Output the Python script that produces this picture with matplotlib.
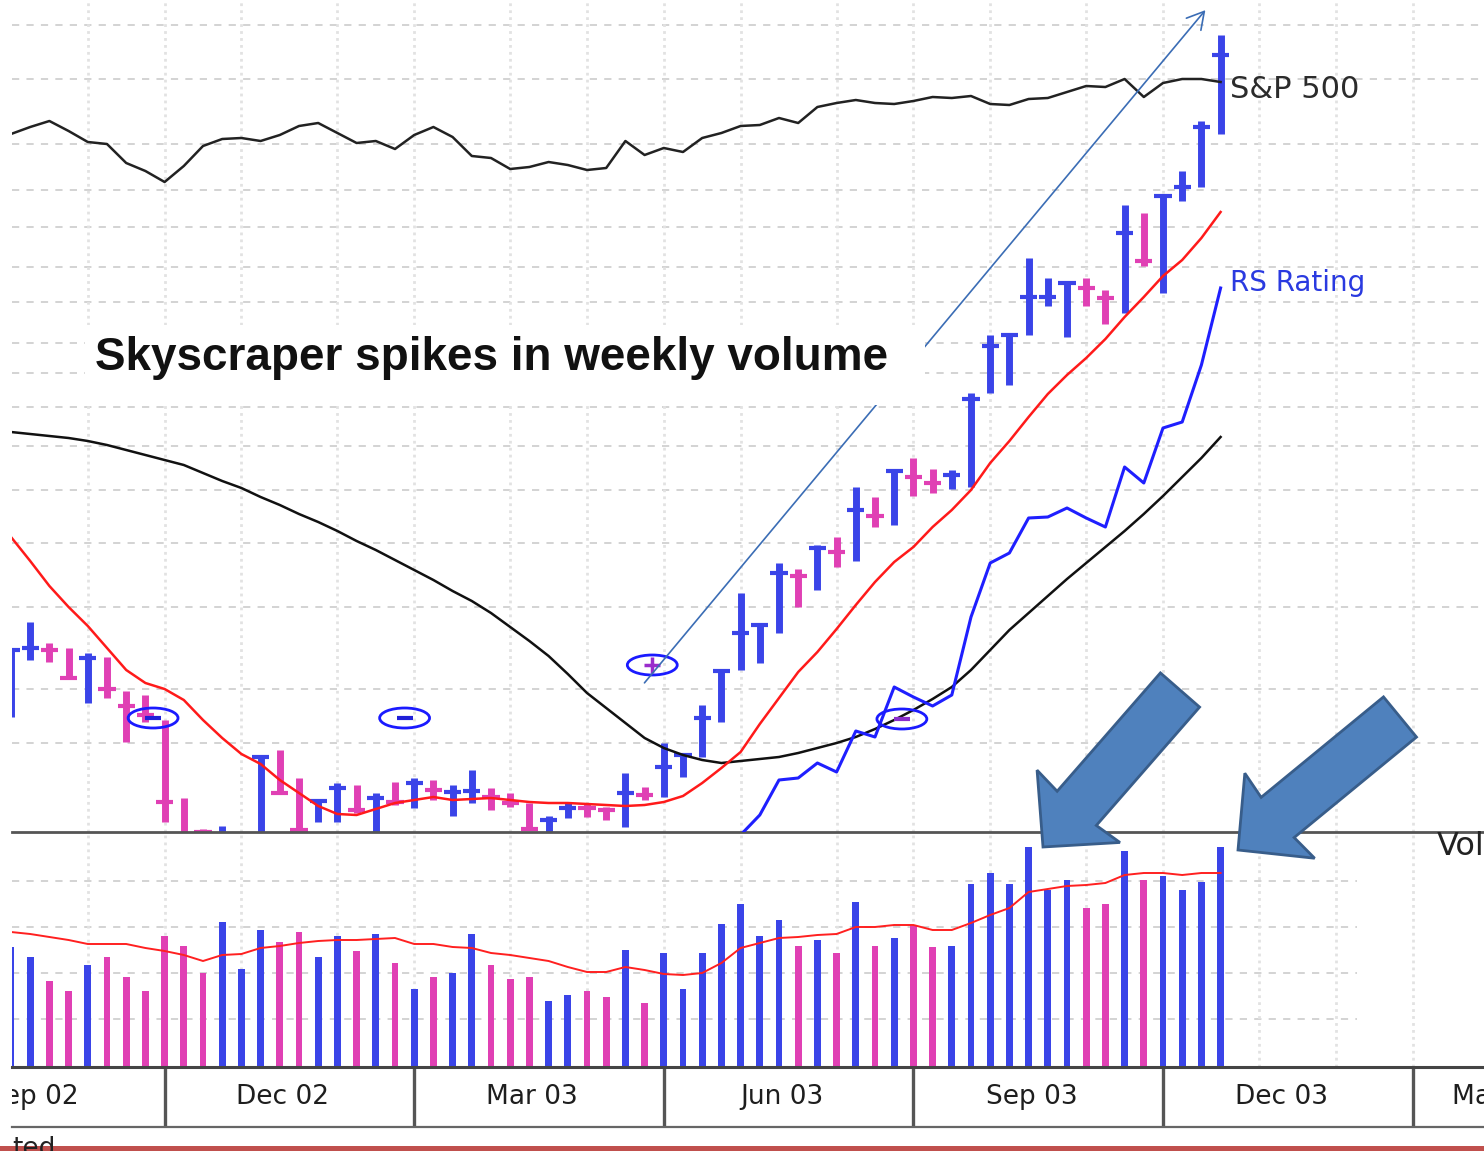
import matplotlib
matplotlib.use("Agg")
import matplotlib.pyplot as plt
import numpy as np
from matplotlib.patches import Ellipse, Rectangle, FancyArrow

# ---- weekly data (week 0 = left edge, Sep 2002 ... Dec 2003) ----
weeks = np.arange(64)
up = [1, 1, 0, 0, 1, 0, 0, 0,
      0, 0, 0, 1, 1, 1, 0, 0,
      1, 1, 0, 1, 0, 1, 0, 1,
      1, 0, 0, 0, 1, 1, 0, 0,
      1, 0, 1, 1, 1, 1, 1, 1,
      1, 0, 1, 0, 1, 0, 1, 0,
      0, 1, 1, 1, 1, 1, 1, 1,
      0, 0, 1, 0, 1, 1, 1, 1]
high = [18.2, 21.0, 18.9, 18.4, 17.9, 17.5, 14.1, 13.7,
        11.2, 3.4, 0.3, 0.6, -0.3, 7.7, 8.2, 5.4,
        3.2, 4.9, 4.7, 3.9, 5.0, 5.4, 5.2, 4.7,
        6.2, 4.4, 3.9, 2.9, 1.6, 3.0, 2.9, 2.5,
        5.9, 4.5, 8.9, 7.8, 12.7, 16.2, 23.9, 20.7,
        26.9, 26.3, 28.7, 29.5, 34.5, 33.5, 36.2, 37.4,
        36.3, 36.2, 43.9, 49.7, 49.9, 57.4, 55.4, 54.9,
        55.4, 54.2, 62.7, 61.9, 63.7, 66.1, 71.1, 79.7]
low = [11.5, 17.2, 17.0, 15.4, 12.9, 13.4, 9.0, 11.0,
       1.0, -1.3, -2.8, -2.8, -4.8, -1.3, 3.9, -0.3,
       1.0, 1.0, 1.9, -0.8, 2.7, 2.4, 3.2, 1.6,
       2.9, 2.2, 2.5, 0.3, -0.8, 1.4, 1.5, 1.2,
       0.5, 3.2, 3.5, 5.5, 7.5, 11.0, 16.2, 16.9,
       19.9, 22.5, 24.2, 26.5, 27.1, 30.5, 30.7, 33.6,
       33.9, 34.3, 34.5, 43.9, 44.7, 49.7, 52.6, 49.5,
       52.6, 50.8, 51.9, 56.6, 53.9, 63.1, 64.5, 69.8]
close = [18.2, 18.4, 18.2, 15.4, 17.4, 14.3, 12.6, 11.7,
         3.0, -0.3, 0.0, -1.3, -1.8, 7.5, 3.9, 0.2,
         3.1, 4.4, 2.2, 3.4, 3.0, 4.9, 4.2, 4.0,
         4.1, 3.5, 2.9, 0.3, 1.2, 2.4, 2.4, 2.2,
         3.9, 3.7, 6.5, 7.7, 11.4, 16.1, 19.9, 20.7,
         25.9, 25.6, 28.4, 28.0, 32.2, 31.6, 36.1, 35.5,
         34.9, 35.7, 43.3, 48.6, 49.7, 53.5, 53.5, 54.9,
         54.4, 53.4, 59.9, 57.1, 63.6, 64.5, 70.5, 77.7]
ma10 = [29.5, 27.1, 24.6, 22.5, 20.6, 18.4, 16.2, 14.9,
        14.3, 13.2, 11.2, 9.4, 7.8, 6.8, 5.2, 3.9,
        2.6, 1.8, 1.7, 2.3, 2.9, 3.2, 3.5, 3.2,
        3.3, 3.4, 3.2, 3.0, 2.9, 2.9, 2.8, 2.7,
        2.6, 2.7, 3.0, 3.6, 4.9, 6.4, 8.0, 10.8,
        13.4, 16.0, 18.0, 20.3, 22.7, 25.0, 27.0, 28.5,
        30.5, 32.2, 34.2, 36.9, 39.1, 41.5, 43.8, 45.7,
        47.4, 49.3, 51.5, 53.5, 55.6, 57.2, 59.4, 62.0]
ma40 = [40.0, 39.8, 39.6, 39.4, 39.1, 38.7, 38.2, 37.7,
        37.2, 36.7, 35.9, 35.1, 34.4, 33.5, 32.7, 31.8,
        31.0, 30.1, 29.1, 28.2, 27.2, 26.2, 25.2, 24.1,
        23.1, 21.9, 20.5, 19.1, 17.6, 15.8, 13.9, 12.4,
        10.9, 9.4, 8.4, 7.7, 7.2, 6.9, 7.1, 7.3,
        7.5, 7.9, 8.4, 8.9, 9.5, 10.3, 11.2, 12.2,
        13.3, 14.5, 16.2, 18.2, 20.2, 21.9, 23.6, 25.3,
        26.9, 28.5, 30.1, 31.8, 33.6, 35.5, 37.4, 39.5]
rs_start = 37
rs_line = [-2.8, -0.3, 1.7, 5.2, 5.4, 6.9, 6.0, 10.1, 9.5, 14.5, 13.5, 12.6,
           13.7, 21.5, 26.9, 27.9, 31.4, 31.5, 32.4, 31.4, 30.5, 36.5, 34.9,
           40.4, 41.0, 46.7, 54.4]
sp500 = [69.8, 70.5, 71.1, 70.1, 69.0, 68.8, 66.9, 66.1,
         65.0, 66.6, 68.6, 69.3, 69.4, 69.1, 69.7, 70.6,
         70.9, 69.9, 68.9, 69.1, 68.3, 69.7, 70.5, 69.5,
         67.6, 67.4, 66.3, 66.5, 67.0, 66.7, 66.2, 66.4,
         69.1, 67.7, 68.4, 68.0, 69.4, 69.9, 70.6, 70.7,
         71.4, 70.9, 72.5, 72.9, 73.2, 72.9, 72.8, 73.1,
         73.5, 73.4, 73.6, 72.8, 72.7, 73.3, 73.4, 74.0,
         74.6, 74.5, 75.3, 73.5, 74.9, 75.3, 75.3, 75.0]
volume = [12.0, 11.0, 8.6, 7.6, 10.2, 11.0, 9.0, 7.6,
          13.1, 12.1, 9.4, 14.5, 9.8, 13.7, 12.5, 13.5,
          11.0, 13.1, 11.6, 13.3, 10.4, 7.8, 9.0, 9.4,
          13.3, 10.2, 8.8, 9.0, 6.6, 7.2, 7.6, 7.0,
          11.7, 6.4, 11.4, 7.8, 11.4, 14.3, 16.3, 13.1,
          14.7, 12.1, 12.7, 11.4, 16.5, 12.1, 12.9, 14.1,
          12.0, 12.1, 18.3, 19.4, 18.3, 22.0, 17.7, 18.7,
          15.9, 16.3, 21.6, 18.7, 19.1, 17.7, 18.5, 22.0]
vol_ma = [13.5, 13.3, 13.0, 12.7, 12.3, 12.3, 12.3, 11.9,
          11.6, 11.2, 10.6, 11.2, 11.3, 11.9, 12.1, 12.4,
          12.6, 12.7, 12.7, 12.8, 12.9, 12.3, 12.3, 12.0,
          11.9, 11.4, 11.2, 10.9, 10.6, 10.0, 9.5, 9.5,
          10.0, 9.7, 9.3, 9.2, 9.4, 10.4, 11.9, 12.4,
          12.9, 13.0, 13.2, 13.3, 14.0, 14.0, 14.2, 14.2,
          13.7, 13.7, 14.4, 15.2, 15.9, 17.5, 17.8, 18.1,
          18.2, 18.4, 19.2, 19.4, 19.4, 19.2, 19.4, 19.4]

# circled buy/sell markers
ev_week = [7.4, 20.5, 33.4, 46.4]
ev_level = [11.4, 11.4, 16.7, 11.3]
ev_sign = ['-', '-', '+', '-']

# grid and date axis
price_grid = [80.7, 75.3, 68.8, 64.2, 60.5, 56.5, 53.0, 48.9, 45.9, 42.5,
              38.6, 34.2, 28.9, 22.5, 14.3, 8.9]
vol_grid = [18.6, 14.0, 9.4, 4.8]
month_weeks = [4, 8, 12, 17, 21, 26, 30, 34, 38, 43, 47, 51, 56, 60, 65, 69, 73]
quarter_start = [-5, 8, 21, 34, 47, 60, 73]
quarter_labels = ['Sep 02', 'Dec 02', 'Mar 03', 'Jun 03', 'Sep 03', 'Dec 03', 'Mar 04']

BLUE = '#3a44e8'
PINK = '#e040b4'
cols = [BLUE if u else PINK for u in up]

W, H = 1484, 1151
fig = plt.figure(figsize=(W / 100, H / 100), dpi=100)
L = 12 / W
ax = fig.add_axes([L, (H - 832) / H, 1 - L, 832 / H])
axv = fig.add_axes([L, (H - 1067) / H, 1 - L, 235 / H])
axd = fig.add_axes([L, (H - 1127) / H, 1 - L, 60 / H])
xlim = (1 / 19.2, 1473 / 19.2)

# ---- price pane ----
ax.set_xlim(*xlim)
ax.set_ylim(0, 83.2)
ax.hlines(price_grid, *xlim, colors='#d0d0d0', linestyles=(0, (4, 4)), lw=1.3, zorder=0)
ax.vlines(month_weeks, 0, 83.2, colors='#e2e2e2', linestyles=(0, (1, 1.5)), lw=2, zorder=0)

ax.vlines(weeks, low, high, colors=cols, lw=5, capstyle='butt', zorder=2)
ax.hlines(close, weeks - 0.45, weeks + 0.45, colors=cols, lw=3, zorder=2)

ax.plot(weeks, sp500, color='#222222', lw=1.8, zorder=3)
ax.plot(weeks, ma40, color='#111111', lw=1.8, zorder=3)
ax.plot(weeks, ma10, color='#ff1a1a', lw=1.8, zorder=3)
ax.plot(weeks[rs_start:], rs_line, color='#1f1fff', lw=2.2, zorder=3)

for w, lv, s in zip(ev_week, ev_level, ev_sign):
    ax.add_patch(Ellipse((w, lv), 2.6, 2.0, fill=False, ec='#1a1aff', lw=2, zorder=4))
    if s == '+':
        ax.plot(w, lv, marker='+', ms=11, mew=2.5, color='#9a2ccc', zorder=4)
    else:
        ax.plot(w, lv, marker='_', ms=11, mew=3, color='#2020d8' if w < 30 else '#8a2ccc', zorder=4)

ax.text(63.5, 74.2, 'S&P 500', fontsize=22, color='#2b2b2b', va='center', ha='left', clip_on=False)
ax.text(63.5, 54.9, 'RS Rating', fontsize=20, color='#2a3ae0', va='center', ha='left', clip_on=False)

ax.annotate('', xy=(62.3, 82.4), xytext=(32.9, 14.7),
            arrowprops=dict(arrowstyle='->,head_length=0.6,head_width=0.34',
                            color='#3b6db5', lw=1.2, mutation_scale=20), zorder=4)
ax.add_patch(Rectangle((3.85, 42.7), 43.75, 8.0, fc='white', ec='none', zorder=5))
ax.text(4.4, 47.4, 'Skyscraper spikes in weekly volume', fontsize=33,
        fontweight='bold', family=['Liberation Sans', 'DejaVu Sans'], color='#111111',
        va='center', ha='left', zorder=6)

for sp in ['top', 'left', 'right']:
    ax.spines[sp].set_visible(False)
ax.spines['bottom'].set_color('#555555')
ax.spines['bottom'].set_linewidth(2)
ax.set_xticks([])
ax.set_yticks([])

# ---- volume pane ----
axv.set_xlim(*xlim)
axv.set_ylim(0, 23.5)
axv.hlines(vol_grid, xlim[0], 70.1, colors='#d0d0d0', linestyles=(0, (4, 4)), lw=1.3, zorder=0)
axv.vlines(month_weeks, 0, 23.5, colors='#e2e2e2', linestyles=(0, (1, 1.5)), lw=2, zorder=0)
axv.bar(weeks, volume, width=0.36, color=cols, zorder=2)
axv.plot(weeks, vol_ma, color='#ff2020', lw=1.4, zorder=3)
for sp in axv.spines.values():
    sp.set_visible(False)
axv.set_xticks([])
axv.set_yticks([])
axv.patch.set_alpha(0)

# ---- date axis ----
axd.set_xlim(*xlim)
axd.set_ylim(0, 1)
axd.vlines(quarter_start[1:], 0, 1, colors='#555555', lw=2.4)
for q, lab in zip(quarter_start, quarter_labels):
    if q == quarter_start[-1]:
        axd.text(q + 2.05, 0.5, lab, fontsize=19, color='#1e1e1e', ha='left', va='center', clip_on=True)
    else:
        axd.text(q + 6.15, 0.5, lab, fontsize=19, color='#1e1e1e', ha='center', va='center', clip_on=True)
for sp in ['left', 'right']:
    axd.spines[sp].set_visible(False)
axd.spines['top'].set_color('#444444')
axd.spines['top'].set_linewidth(2.2)
axd.spines['bottom'].set_color('#666666')
axd.spines['bottom'].set_linewidth(1.6)
axd.set_xticks([])
axd.set_yticks([])

# ---- callouts over the whole figure (pixel coordinates) ----
ov = fig.add_axes([0, 0, 1, 1], zorder=10)
ov.set_xlim(0, W)
ov.set_ylim(H, 0)
ov.axis('off')
callouts = [((1180, 690), (1043, 847)), ((1400, 717), (1238, 850))]
for (x0, y0), (x1, y1) in callouts:
    ov.add_patch(FancyArrow(x0, y0, x1 - x0, y1 - y0, width=52, head_width=110,
                            head_length=54, length_includes_head=True, overhang=0.05,
                            fc='#4f81bd', ec='#385d8a', lw=2))
ov.text(1437, 846, 'Volume', fontsize=23, color='#222222', va='center', ha='left')
ov.text(12, 1156, 'ted', fontsize=19, color='#222222', va='baseline', ha='left')
ov.add_patch(Rectangle((0, 1146), W, 6, fc='#c0504d', ec='none'))

fig.savefig('out.png', dpi=100)
